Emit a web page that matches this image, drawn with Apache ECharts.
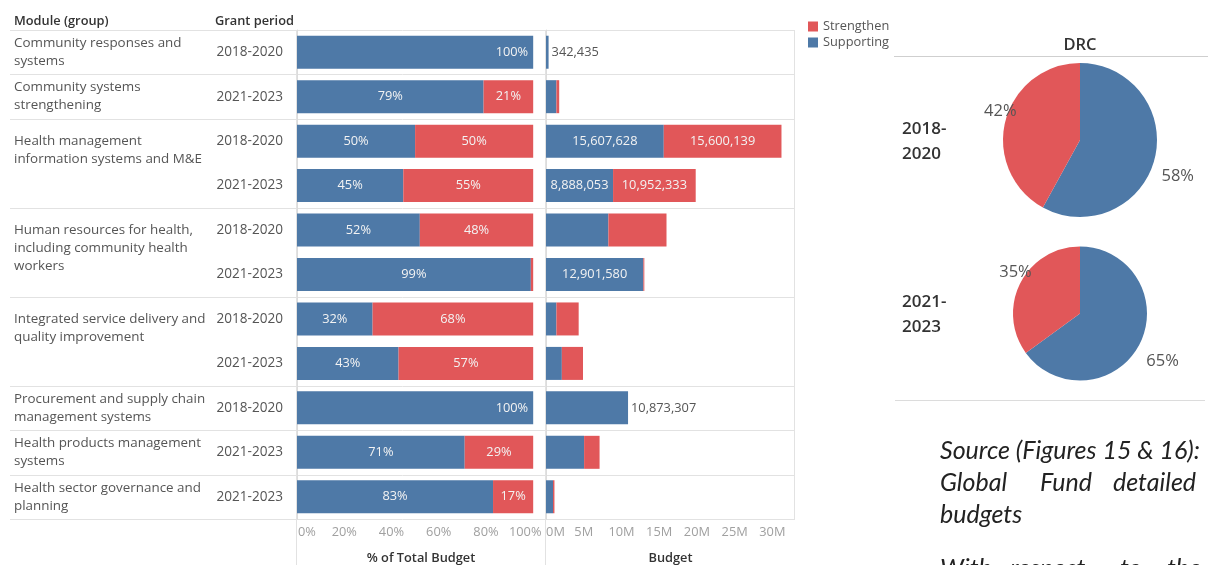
<!DOCTYPE html>
<html><head><meta charset="utf-8">
<script src="https://cdn.jsdelivr.net/npm/echarts@6/dist/echarts.min.js"></script>
<style>html,body{margin:0;padding:0;background:#fff}#c{width:1208px;height:565px}</style>
</head><body><div id="c"></div>
<script>
// ---------- data ----------
const moduleNames = [
  'Community responses and\nsystems',
  'Community systems\nstrengthening',
  'Health management\ninformation systems and M&E',
  'Human resources for health,\nincluding community health\nworkers',
  'Integrated service delivery and\nquality improvement',
  'Procurement and supply chain\nmanagement systems',
  'Health products management\nsystems',
  'Health sector governance and\nplanning'
];
const rowModule = [0, 1, 2, 2, 3, 3, 4, 4, 5, 6, 7];
const grantPeriods = ['2018-2020','2021-2023','2018-2020','2021-2023','2018-2020','2021-2023','2018-2020','2021-2023','2018-2020','2021-2023','2021-2023'];
const pctSupporting = [1.00, 0.79, 0.50, 0.45, 0.52, 0.99, 0.32, 0.43, 1.00, 0.71, 0.83];
const pctStrengthen = [0.00, 0.21, 0.50, 0.55, 0.48, 0.01, 0.68, 0.57, 0.00, 0.29, 0.17];
const budgetSupporting = [342435, 1380000, 15607628, 8888053, 8270000, 12901580, 1380000, 2100000, 10873307, 5050000, 930000];
const budgetStrengthen = [0, 370000, 15600139, 10952333, 7700000, 130000, 2950000, 2800000, 0, 2050000, 190000];
const pctTickLabels = ['0%', '20%', '40%', '60%', '80%', '100%'];
const budgetTickLabels = ['0M', '5M', '10M', '15M', '20M', '25M', '30M'];
const legendNames = ['Strengthen', 'Supporting'];
const pieTitle = 'DRC';
const pieYears = ['2018-\n2020', '2021-\n2023'];
const pieSupporting = [58, 65];
const pieStrengthen = [42, 35];

// ---------- styling ----------
const BLUE = '#4e79a7', RED = '#e15759';
const FONT = 'Open Sans';
const LINE = '#e2e2e2';

const nRows = grantPeriods.length;
const rowIdx = grantPeriods.map((_, i) => String(i));
const groupSize = rowModule.map(m => rowModule.filter(x => x === m).length);
const moduleRowLabels = rowModule.map((m, i) => {
  if (i > 0 && rowModule[i - 1] === m) return '';
  const txt = moduleNames[m];
  if (groupSize[i] > 1) {
    const n = txt.split('\n').length;
    return '\n'.repeat(n - 1) + txt;
  }
  return txt;
});
const fmtNum = v => Math.round(v).toLocaleString('en-US');
const inLbl = { color: '#f3f3f3', fontSize: 12.8, fontFamily: FONT };

const pctData = (arr) => arr.map(v => ({
  value: v,
  label: v >= 0.05 ? Object.assign({ show: true, position: v >= 0.999 ? 'insideRight' : 'inside',
    formatter: Math.round(v * 100) + '%' }, inLbl) : { show: false }
}));
const budData = (arr, other, isBlue) => arr.map((v, i) => {
  let label = { show: false };
  if (isBlue && other[i] === 0) label = { show: true, position: 'right', distance: 3, color: '#555', fontSize: 12.8, fontFamily: FONT, formatter: fmtNum(v) };
  else if (v >= 8.5e6) label = Object.assign({ show: true, position: 'inside', formatter: fmtNum(v) }, inLbl);
  return { value: v, label };
});

const axisLbl = (labels, interval, padL, padR) => ({
  color: '#a0a0a0', fontSize: 12.8, fontFamily: FONT, margin: 7, showMaxLabel: false,
  formatter: (v) => {
    const k = Math.round(v / interval);
    if (Math.abs(v - k * interval) > interval * 1e-6 || k >= labels.length) return '';
    if (k === 0 && padL) return '{l|' + labels[k] + '}';
    if (k === labels.length - 1 && padR) return '{r|' + labels[k] + '}';
    return labels[k];
  },
  rich: {
    l: { padding: [0, 0, 0, padL || 0], color: '#a0a0a0', fontSize: 12.8, fontFamily: FONT },
    r: { padding: [0, padR || 0, 0, 0], color: '#a0a0a0', fontSize: 12.8, fontFamily: FONT }
  }
});
const nameStyle = { color: '#333', fontSize: 12.8, fontFamily: FONT, fontWeight: 600 };

const chart = echarts.init(document.getElementById('c'), null, { renderer: 'canvas' });

const gtext = (text, x, y, o) => ({ type: 'text', x, y, silent: true,
  style: Object.assign({ text, fill: '#333', fontSize: 12.8, fontFamily: FONT, align: 'left', verticalAlign: 'middle' }, o || {}) });
const gline = (x1, y1, x2, y2, c) => ({ type: 'line', silent: true, shape: { x1, y1, x2, y2 }, style: { stroke: c || LINE, lineWidth: 1 } });
const srcStyle = { fontSize: 25, fontFamily: 'Lato', fontStyle: 'italic', fill: '#222' };

// nudges that reproduce where the reference places the pie percentage labels
const pieLabelShift = { Supporting: [-2, 16], Strengthen: [20, -9] };

const option = {
  backgroundColor: '#fff',
  animation: false,
  textStyle: { fontFamily: FONT },
  legend: {
    data: legendNames, orient: 'vertical', left: 803, top: 15, icon: 'rect',
    itemWidth: 10, itemHeight: 10, itemGap: 3,
    textStyle: { color: '#555', fontSize: 12.8, fontFamily: FONT }
  },
  grid: [
    { left: 10, top: 30, width: 785, height: 489, outerBoundsMode: 'none' },
    { left: 297, top: 30, width: 248, height: 489, outerBoundsMode: 'none' },
    { left: 546, top: 30, width: 249, height: 489, outerBoundsMode: 'none' }
  ],
  xAxis: [
    { gridIndex: 0, type: 'value', min: 0, max: 1, show: false },
    { gridIndex: 1, type: 'value', min: 0, max: 1.05, interval: 0.2,
      axisLine: { show: false }, axisTick: { show: false }, splitLine: { show: false },
      axisLabel: axisLbl(pctTickLabels, 0.2, 20, 16),
      name: '% of Total Budget', nameLocation: 'middle', nameGap: 33, nameTextStyle: nameStyle },
    { gridIndex: 2, type: 'value', min: 0, max: 33e6, interval: 5e6,
      axisLine: { show: false }, axisTick: { show: false }, splitLine: { show: false },
      axisLabel: axisLbl(budgetTickLabels, 5e6, 19, 0),
      name: 'Budget', nameLocation: 'middle', nameGap: 33, nameTextStyle: nameStyle }
  ],
  yAxis: [
    { gridIndex: 0, type: 'category', data: rowIdx, inverse: true, show: false },
    { gridIndex: 1, type: 'category', data: grantPeriods, inverse: true, position: 'left',
      axisLine: { show: true, lineStyle: { color: '#dcdcdc' } }, axisTick: { show: false },
      axisLabel: { interval: 0, margin: 14, color: '#555', fontSize: 13.6, fontFamily: FONT } },
    { gridIndex: 1, type: 'category', data: moduleRowLabels, inverse: true, position: 'left',
      axisLine: { show: false }, axisTick: { show: false },
      axisLabel: { interval: 0, margin: 283, align: 'left', color: '#555', fontSize: 13.4, lineHeight: 18, fontFamily: FONT } },
    { gridIndex: 2, type: 'category', data: grantPeriods, inverse: true, position: 'left',
      axisLine: { show: true, lineStyle: { color: '#dcdcdc' } }, axisTick: { show: false }, axisLabel: { show: false } }
  ],
  series: [
    { type: 'custom', xAxisIndex: 0, yAxisIndex: 0, silent: true, z: 0,
      data: rowIdx.map((_, i) => [0, i]),
      renderItem: (params, api) => {
        const i = api.value(1);
        const cs = params.coordSys;
        const yc = api.coord([0, i])[1];
        const h = api.size([0, 1])[1];
        const ch = [];
        const ln = y => ({ type: 'line', shape: { x1: cs.x, y1: Math.round(y) + 0.5, x2: cs.x + cs.width, y2: Math.round(y) + 0.5 }, style: { stroke: LINE, lineWidth: 1 } });
        if (i === 0 || rowModule[i] !== rowModule[i - 1]) ch.push(ln(yc - h / 2));
        if (i === nRows - 1) ch.push(ln(yc + h / 2));
        return { type: 'group', children: ch };
      } },
    { name: 'Supporting', type: 'bar', xAxisIndex: 1, yAxisIndex: 1, stack: 'pct', barWidth: 33,
      itemStyle: { color: BLUE }, data: pctData(pctSupporting) },
    { name: 'Strengthen', type: 'bar', xAxisIndex: 1, yAxisIndex: 1, stack: 'pct', barWidth: 33,
      itemStyle: { color: RED }, data: pctData(pctStrengthen) },
    { name: 'Supporting', type: 'bar', xAxisIndex: 2, yAxisIndex: 3, stack: 'bud', barWidth: 33,
      itemStyle: { color: BLUE }, data: budData(budgetSupporting, budgetStrengthen, true) },
    { name: 'Strengthen', type: 'bar', xAxisIndex: 2, yAxisIndex: 3, stack: 'bud', barWidth: 33,
      itemStyle: { color: RED }, data: budData(budgetStrengthen, budgetSupporting, false) },
    ...pieYears.map((y, k) => ({
      type: 'pie', center: [1080, k === 0 ? 140 : 313.5], radius: k === 0 ? 77 : 67,
      startAngle: 90, clockwise: true, avoidLabelOverlap: false,
      label: { show: true, position: 'outside', formatter: '{c}%', color: '#555', fontSize: 16.5, fontFamily: FONT },
      labelLine: { show: false, length: 4, length2: 0 },
      labelLayout: (p) => { const s = pieLabelShift[p.dataIndex === 0 ? 'Supporting' : 'Strengthen']; return { dx: s[0], dy: s[1] }; },
      emphasis: { disabled: true },
      data: [
        { name: 'Supporting', value: pieSupporting[k], itemStyle: { color: BLUE } },
        { name: 'Strengthen', value: pieStrengthen[k], itemStyle: { color: RED } }
      ]
    }))
  ],
  graphic: [
    gtext('Module (group)', 14, 21, { fontWeight: 600 }),
    gtext('Grant period', 215, 21, { fontWeight: 600 }),
    gline(296.5, 30, 296.5, 565), gline(545.5, 30, 545.5, 565), gline(794.5, 30, 794.5, 519),
    gtext(pieTitle, 1080, 45, { align: 'center', fontSize: 16.5, fontWeight: 600 }),
    gline(894, 56.5, 1208, 56.5, '#cfcfcf'),
    gline(895, 400.5, 1205, 400.5, '#dcdcdc'),
    gtext(pieYears[0], 902, 142, { fontSize: 17, fontWeight: 600, lineHeight: 25 }),
    gtext(pieYears[1], 902, 315, { fontSize: 17, fontWeight: 600, lineHeight: 25 }),
    gtext('Source (Figures 15 & 16):', 940, 451, srcStyle),
    gtext('Global', 940, 483, srcStyle), gtext('Fund', 1040, 483, srcStyle), gtext('detailed', 1113, 483, srcStyle),
    gtext('budgets', 940, 515, srcStyle),
    gtext('With', 940, 569, srcStyle), gtext('respect', 1010, 569, srcStyle), gtext('to', 1120, 569, srcStyle), gtext('the', 1167, 569, srcStyle)
  ]
};
chart.setOption(option);
</script>
</body></html>
